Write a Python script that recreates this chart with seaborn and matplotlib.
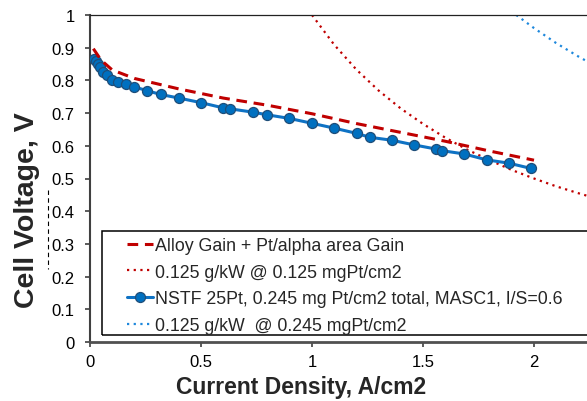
import matplotlib
matplotlib.use("Agg")
import matplotlib.pyplot as plt
from matplotlib.ticker import FuncFormatter
from matplotlib.patches import Rectangle
from matplotlib.lines import Line2D
import seaborn as sns

sns.set_style("white")
plt.rcParams["font.family"] = ["Liberation Sans", "DejaVu Sans"]

# Measured polarization curve: NSTF 25Pt, 0.245 mg Pt/cm2
nstf_current = [0.019, 0.026, 0.035, 0.045, 0.060, 0.078, 0.098, 0.126, 0.161,
                0.200, 0.255, 0.318, 0.400, 0.500, 0.600, 0.631, 0.733, 0.796,
                0.896, 0.999, 1.100, 1.201, 1.261, 1.360, 1.458, 1.559, 1.587,
                1.686, 1.787, 1.886, 1.985]
nstf_voltage = [0.865, 0.860, 0.850, 0.840, 0.827, 0.817, 0.802, 0.796, 0.788,
                0.780, 0.769, 0.757, 0.746, 0.732, 0.716, 0.713, 0.703, 0.695,
                0.684, 0.669, 0.654, 0.638, 0.626, 0.617, 0.603, 0.590, 0.585,
                0.575, 0.557, 0.547, 0.531]

# Projected curve with alloy and Pt/alpha area gains
alloy_current = [0.015, 0.05, 0.10, 0.20, 0.40, 0.60, 0.80, 1.00, 1.20, 1.40,
                 1.60, 1.80, 2.00]
alloy_voltage = [0.897, 0.862, 0.832, 0.806, 0.774, 0.746, 0.724, 0.698, 0.668,
                 0.641, 0.614, 0.584, 0.556]

# 0.125 g/kW target line at 0.125 mgPt/cm2
target125_current = [1.00, 1.10, 1.20, 1.30, 1.40, 1.50, 1.60, 1.70, 1.80, 1.90,
                     2.00, 2.10, 2.20, 2.30, 2.40, 2.50]
target125_voltage = [1.000, 0.909, 0.833, 0.769, 0.714, 0.667, 0.625, 0.588,
                     0.556, 0.526, 0.500, 0.476, 0.455, 0.435, 0.417, 0.400]

# 0.125 g/kW target line at 0.245 mgPt/cm2
target245_current = [1.92, 2.00, 2.10, 2.20, 2.30, 2.40, 2.50]
target245_voltage = [1.000, 0.960, 0.914, 0.873, 0.835, 0.800, 0.768]

series_labels = [
    "Alloy Gain + Pt/alpha area Gain",
    "0.125 g/kW @ 0.125 mgPt/cm2",
    "NSTF 25Pt, 0.245 mg Pt/cm2 total, MASC1, I/S=0.6",
    "0.125 g/kW  @ 0.245 mgPt/cm2",
]
x_ticks = [0, 0.5, 1, 1.5, 2]
y_ticks = [0, 0.1, 0.2, 0.3, 0.4, 0.5, 0.6, 0.7, 0.8, 0.9, 1]

RED = "#C00000"
BLUE = "#0E72C4"
BLUE_EDGE = "#1F4E79"

W, H = 587, 402
fig = plt.figure(figsize=(W / 100, H / 100), dpi=100)


def fx(px):
    return px / W


def fy(py):
    return 1 - py / H


ax = fig.add_axes([fx(90), fy(343), (645 - 90) / W, (343 - 16) / H])

sns.lineplot(x=alloy_current, y=alloy_voltage, ax=ax, sort=False, estimator=None,
             color=RED, linewidth=2.2, linestyle=(0, (3.5, 2.2)),
             label=series_labels[0], zorder=4)
sns.lineplot(x=target125_current, y=target125_voltage, ax=ax, sort=False,
             estimator=None, color=RED, linewidth=1.6, linestyle=(0, (1, 2)),
             label=series_labels[1], zorder=2)
sns.lineplot(x=nstf_current, y=nstf_voltage, ax=ax, sort=False, estimator=None,
             color=BLUE, linewidth=2.2, marker="o", markersize=7.2,
             markerfacecolor="#0070C0", markeredgecolor=BLUE_EDGE,
             markeredgewidth=0.9, label=series_labels[2], zorder=3)
sns.lineplot(x=target245_current, y=target245_voltage, ax=ax, sort=False,
             estimator=None, color="#1E88DC", linewidth=1.6,
             linestyle=(0, (1, 2)), label=series_labels[3], zorder=2)

ax.set_xlim(0, 2.5)
ax.set_ylim(0, 1)
ax.set_xticks(x_ticks)
ax.set_yticks(y_ticks)
fmt = FuncFormatter(lambda v, p: f"{v:g}")
ax.xaxis.set_major_formatter(fmt)
ax.yaxis.set_major_formatter(fmt)
ax.tick_params(axis="both", which="major", direction="out", length=3.6,
               width=1.2, color="#404040", labelsize=12, labelcolor="black",
               bottom=True, left=True)
ax.tick_params(axis="y", pad=7.5)
ax.tick_params(axis="x", pad=5)
ax.set_xlabel("")
ax.set_ylabel("")

for side in ("left", "bottom", "top", "right"):
    ax.spines[side].set_visible(True)
ax.spines["left"].set_color("#404040")
ax.spines["left"].set_linewidth(1.5)
ax.spines["bottom"].set_color("#505050")
ax.spines["bottom"].set_linewidth(2.0)
ax.spines["top"].set_color("#222222")
ax.spines["top"].set_linewidth(0.9)
ax.spines["right"].set_color("#222222")

handles = ax.get_lines()[:4]
ax.get_legend().remove()
fig.legend(handles, series_labels, loc="upper left", frameon=False,
           bbox_to_anchor=(fx(127), fy(238)), borderpad=0, borderaxespad=0,
           fontsize=12.8, handlelength=1.45, handletextpad=0.1,
           labelspacing=0.54, numpoints=1)
fig.add_artist(Rectangle((fx(102), fy(336)), (640 - 102) / W, (336 - 232) / H,
                         transform=fig.transFigure, fill=False,
                         edgecolor="black", linewidth=1.1))

fig.text(fx(301), fy(394), "Current Density, A/cm2", ha="center",
         va="baseline", fontsize=16.5, fontweight="bold")
fig.text(fx(27), fy(210), "Cell Voltage, V", ha="center", va="center",
         rotation=90, fontsize=20.5, fontweight="bold")

# dashed guide left of the y tick labels
fig.add_artist(Line2D([fx(48), fx(48)], [fy(191), fy(270)],
                      transform=fig.transFigure, color="black", linewidth=0.8,
                      linestyle=(0, (4, 3))))

fig.savefig("out.png", dpi=100)
